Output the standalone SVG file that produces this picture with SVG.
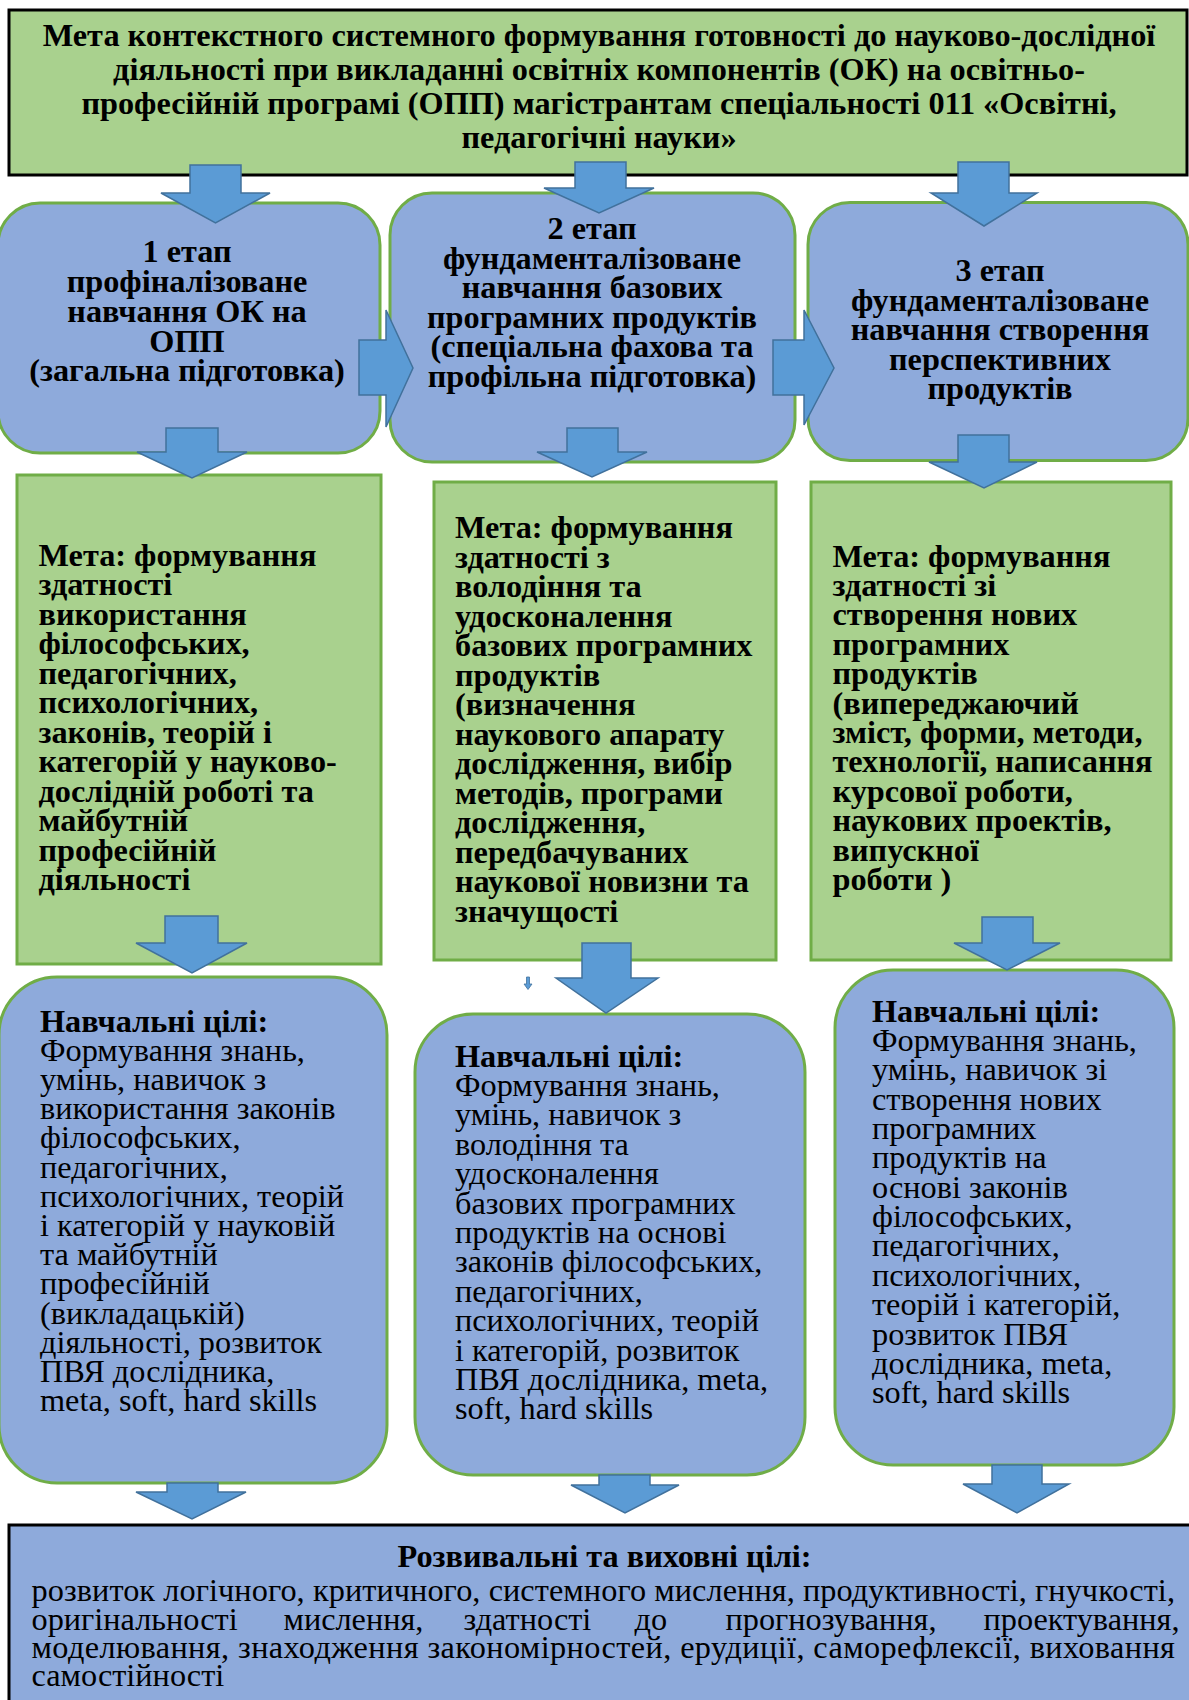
<svg xmlns="http://www.w3.org/2000/svg" width="1189" height="1700" viewBox="0 0 1189 1700">
<style>
.bg{fill:#ffffff}
.green{fill:#A9D18E;stroke:#70AD47;stroke-width:3}
.blue{fill:#8EAADB;stroke:#70AD47;stroke-width:3}
.gblack{fill:#A9D18E;stroke:#000000;stroke-width:3}
.bblack{fill:#8EAADB;stroke:#000000;stroke-width:3}
.arr{fill:#5B9BD5;stroke:#41719C;stroke-width:1.5;stroke-linejoin:miter}
text{font-family:"Liberation Serif","Times New Roman",serif;font-size:31px;fill:#000}
.b{font-weight:bold}
.c{text-anchor:middle}
</style>
<rect class="bg" x="0" y="0" width="1189" height="1700"/>

<g id="goal-main">
<rect class="gblack" x="9" y="10" width="1178" height="165"/>
<g transform="translate(599 0) scale(1.042 1)">
<text class="b c"><tspan x="0" y="46.5">Мета контекстного системного формування готовності до науково-дослідної</tspan><tspan x="0" y="80.5">діяльності при викладанні освітніх компонентів (ОК) на освітньо-</tspan><tspan x="0" y="114.5">професійній програмі (ОПП) магістрантам спеціальності 011 «Освітні,</tspan><tspan x="0" y="148.5">педагогічні науки»</tspan></text>
</g>
</g>

<g id="stage-1">
<rect class="blue" x="-2" y="203" width="382" height="250" rx="42" ry="42"/>
<g transform="translate(187 0) scale(1.042 1)">
<text class="b c"><tspan x="0" y="262.5">1 етап</tspan><tspan x="0" y="292.2">профіналізоване</tspan><tspan x="0" y="321.9">навчання ОК на</tspan><tspan x="0" y="351.6">ОПП</tspan><tspan x="0" y="381.3">(загальна підготовка)</tspan></text>
</g>
</g>

<g id="stage-2">
<rect class="blue" x="390" y="193" width="405" height="269" rx="42" ry="42"/>
<g transform="translate(592 0) scale(1.042 1)">
<text class="b c"><tspan x="0" y="239.3">2 етап</tspan><tspan x="0" y="268.8">фундаменталізоване</tspan><tspan x="0" y="298.3">навчання базових</tspan><tspan x="0" y="327.8">програмних продуктів</tspan><tspan x="0" y="357.3">(спеціальна фахова та</tspan><tspan x="0" y="386.8">профільна підготовка)</tspan></text>
</g>
</g>

<g id="stage-3">
<rect class="blue" x="808" y="202.5" width="380" height="258" rx="42" ry="42"/>
<g transform="translate(1000 0) scale(1.042 1)">
<text class="b c"><tspan x="0" y="281">3 етап</tspan><tspan x="0" y="310.6">фундаменталізоване</tspan><tspan x="0" y="340.2">навчання створення</tspan><tspan x="0" y="369.8">перспективних</tspan><tspan x="0" y="399.4">продуктів</tspan></text>
</g>
</g>

<g id="goal-1">
<rect class="green" x="17" y="475" width="364" height="489"/>
<g transform="translate(38.5 0) scale(1.042 1)">
<text class="b"><tspan x="0" y="566">Мета: формування</tspan><tspan x="0" y="595.5">здатності</tspan><tspan x="0" y="625">використання</tspan><tspan x="0" y="654.5">філософських,</tspan><tspan x="0" y="684">педагогічних,</tspan><tspan x="0" y="713.5">психологічних,</tspan><tspan x="0" y="743">законів, теорій і</tspan><tspan x="0" y="772.5">категорій у науково-</tspan><tspan x="0" y="802">дослідній роботі та</tspan><tspan x="0" y="831.5">майбутній</tspan><tspan x="0" y="861">професійній</tspan><tspan x="0" y="890.5">діяльності</tspan></text>
</g>
</g>

<g id="goal-2">
<rect class="green" x="434" y="482" width="342" height="478"/>
<g transform="translate(455 0) scale(1.042 1)">
<text class="b"><tspan x="0" y="538.5">Мета: формування</tspan><tspan x="0" y="568">здатності з</tspan><tspan x="0" y="597.5">володіння та</tspan><tspan x="0" y="627">удосконалення</tspan><tspan x="0" y="656.5">базових програмних</tspan><tspan x="0" y="686">продуктів</tspan><tspan x="0" y="715.5">(визначення</tspan><tspan x="0" y="745">наукового апарату</tspan><tspan x="0" y="774.5">дослідження, вибір</tspan><tspan x="0" y="804">методів, програми</tspan><tspan x="0" y="833.5">дослідження,</tspan><tspan x="0" y="863">передбачуваних</tspan><tspan x="0" y="892.5">наукової новизни та</tspan><tspan x="0" y="922">значущості</tspan></text>
</g>
</g>

<g id="goal-3">
<rect class="green" x="811" y="482" width="360" height="478"/>
<g transform="translate(832.5 0) scale(1.042 1)">
<text class="b"><tspan x="0" y="566.7">Мета: формування</tspan><tspan x="0" y="596.1">здатності зі</tspan><tspan x="0" y="625.5">створення нових</tspan><tspan x="0" y="654.9">програмних</tspan><tspan x="0" y="684.3">продуктів</tspan><tspan x="0" y="713.7">(випереджаючий</tspan><tspan x="0" y="743.1">зміст, форми, методи,</tspan><tspan x="0" y="772.5">технології, написання</tspan><tspan x="0" y="801.9">курсової роботи,</tspan><tspan x="0" y="831.3">наукових проектів,</tspan><tspan x="0" y="860.7">випускної</tspan><tspan x="0" y="890.1">роботи )</tspan></text>
</g>
</g>

<g id="learn-1">
<rect class="blue" x="-1" y="977" width="388" height="506" rx="58" ry="58"/>
<g transform="translate(40 0) scale(1.042 1)">
<text><tspan class="b" x="0" y="1031.7">Навчальні цілі:</tspan><tspan x="0" y="1060.9">Формування знань,</tspan><tspan x="0" y="1090.1">умінь, навичок з</tspan><tspan x="0" y="1119.3">використання законів</tspan><tspan x="0" y="1148.5">філософських,</tspan><tspan x="0" y="1177.7">педагогічних,</tspan><tspan x="0" y="1206.9">психологічних, теорій</tspan><tspan x="0" y="1236.1">і категорій у науковій</tspan><tspan x="0" y="1265.3">та майбутній</tspan><tspan x="0" y="1294.5">професійній</tspan><tspan x="0" y="1323.7">(викладацькій)</tspan><tspan x="0" y="1352.9">діяльності, розвиток</tspan><tspan x="0" y="1382.1">ПВЯ дослідника,</tspan><tspan x="0" y="1411.3">meta, soft, hard skills</tspan></text>
</g>
</g>

<g id="learn-2">
<rect class="blue" x="415" y="1014" width="390" height="461" rx="58" ry="58"/>
<g transform="translate(455 0) scale(1.042 1)">
<text><tspan class="b" x="0" y="1066.7">Навчальні цілі:</tspan><tspan x="0" y="1096.1">Формування знань,</tspan><tspan x="0" y="1125.5">умінь, навичок з</tspan><tspan x="0" y="1154.9">володіння та</tspan><tspan x="0" y="1184.3">удосконалення</tspan><tspan x="0" y="1213.7">базових програмних</tspan><tspan x="0" y="1243.1">продуктів на основі</tspan><tspan x="0" y="1272.5">законів філософських,</tspan><tspan x="0" y="1301.9">педагогічних,</tspan><tspan x="0" y="1331.3">психологічних, теорій</tspan><tspan x="0" y="1360.7">і категорій, розвиток</tspan><tspan x="0" y="1390.1">ПВЯ дослідника, meta,</tspan><tspan x="0" y="1419.5">soft, hard skills</tspan></text>
</g>
</g>

<g id="learn-3">
<rect class="blue" x="835" y="970" width="339" height="495" rx="58" ry="58"/>
<g transform="translate(872 0) scale(1.042 1)">
<text><tspan class="b" x="0" y="1021.7">Навчальні цілі:</tspan><tspan x="0" y="1051.1">Формування знань,</tspan><tspan x="0" y="1080.4">умінь, навичок зі</tspan><tspan x="0" y="1109.8">створення нових</tspan><tspan x="0" y="1139.1">програмних</tspan><tspan x="0" y="1168.5">продуктів на</tspan><tspan x="0" y="1197.8">основі законів</tspan><tspan x="0" y="1227.2">філософських,</tspan><tspan x="0" y="1256.5">педагогічних,</tspan><tspan x="0" y="1285.9">психологічних,</tspan><tspan x="0" y="1315.2">теорій і категорій,</tspan><tspan x="0" y="1344.6">розвиток ПВЯ</tspan><tspan x="0" y="1373.9">дослідника, meta,</tspan><tspan x="0" y="1403.3">soft, hard skills</tspan></text>
</g>
</g>

<g id="dev-goals">
<rect class="bblack" x="9" y="1525" width="1190" height="185"/>
<g transform="translate(604.5 0) scale(1.042 1)">
<text class="b c" x="0" y="1567.3">Розвивальні та виховні цілі:</text>
</g>
<g transform="translate(31.5 0) scale(1.042 1)">
<text x="0" y="1601" textLength="1097.4" lengthAdjust="spacing">розвиток логічного, критичного, системного мислення, продуктивності, гнучкості,</text>
<text y="1630"><tspan x="0">оригінальності</tspan><tspan x="241.8">мислення,</tspan><tspan x="414.6">здатності</tspan><tspan x="578.7">до</tspan><tspan x="666">прогнозування,</tspan><tspan x="913.6">проектування,</tspan></text>
<text x="0" y="1658.5" textLength="1097.4" lengthAdjust="spacing">моделювання, знаходження закономірностей, ерудиції, саморефлексії, виховання</text>
<text x="0" y="1686.5">самостійності</text>
</g>
</g>

<g id="connectors">
<path class="arr" d="M190 165H241V193H270L215.5 223L161 193H190Z"/>
<path class="arr" d="M575 162H626V188H654L599 213L544 188H575Z"/>
<path class="arr" d="M958 162H1009V193H1037L984 226L931 193H958Z"/>
<path class="arr" d="M359 340H386V310L413 368L386 427V395H359Z"/>
<path class="arr" d="M773 340H804V310L834 368L804 425V395H773Z"/>
<path class="arr" d="M166 428H218V452H247L192 478L137 452H166Z"/>
<path class="arr" d="M567 428H618V452H647L592 477L537 452H567Z"/>
<path class="arr" d="M958 435H1009V462H1037L984 488L929 462H958Z"/>
<path class="arr" d="M165 916H218V943H247L192 973L136 943H165Z"/>
<path class="arr" d="M582 943H631V978H658L606 1013L556 978H582Z"/>
<path class="arr" d="M982 917H1033V943H1060L1007 970L954 943H982Z"/>
<path class="arr" d="M526.5 977H529.5V984H532L528 989.5L524 984H526.5Z" style="stroke-width:0.8"/>
<path class="arr" d="M167 1483H218V1492H246L192 1519L136 1492H167Z"/>
<path class="arr" d="M599 1475H650V1485H679L625 1513L571 1485H599Z"/>
<path class="arr" d="M992 1465H1042V1484H1069L1017 1513L963 1484H992Z"/>
</g>
</svg>
